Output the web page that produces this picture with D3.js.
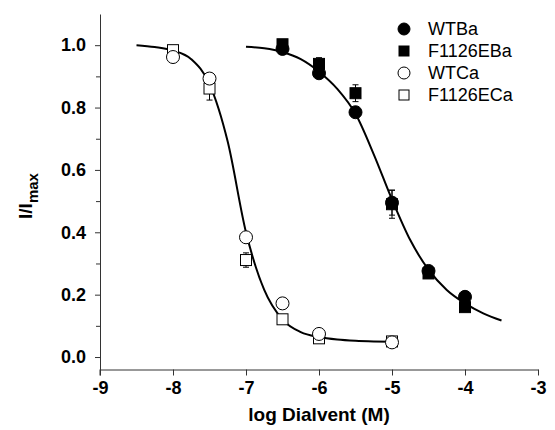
<!DOCTYPE html>
<html>
<head>
<meta charset="utf-8">
<script src="https://cdn.jsdelivr.net/npm/d3@7"></script>
<style>
  body { margin: 0; background: #fff; }
  svg { display: block; font-family: "Liberation Sans", Arial, sans-serif; }
  .tick text { font-weight: bold; font-size: 18px; fill: #000; }
  .tick line, .domain { stroke: #333; }
</style>
</head>
<body>
<div id="chart"></div>
<script>
// log concentrations
const xMajorTicks = [-9, -8, -7, -6, -5, -4, -3]
const yMajorTicks = [0, 0.2, 0.4, 0.6, 0.8, 1.0]
const yMinorTicks = [0.1, 0.3, 0.5, 0.7, 0.9]

const baX = [-6.5, -6, -5.5, -5, -4.5, -4]
const wtBa = [0.988, 0.91, 0.785, 0.495, 0.276, 0.193]
const wtBaErr = [0.01, 0.012, 0.015, 0.04, 0.012, 0.01]
const f1126eBa = [1.003, 0.94, 0.846, 0.49, 0.268, 0.16]
const f1126eBaErr = [0.012, 0.02, 0.027, 0.045, 0.01, 0.01]

const caX = [-8, -7.5, -7, -6.5, -6, -5]
const wtCa = [0.962, 0.893, 0.384, 0.172, 0.074, 0.047]
const wtCaErr = [0.005, 0.01, 0.01, 0.008, 0.006, 0.004]
const f1126eCa = [0.984, 0.861, 0.311, 0.121, 0.06, 0.05]
const f1126eCaErr = [0.005, 0.037, 0.023, 0.006, 0.005, 0.004]

// fitted curves
const baFitX = [-7, -6.75, -6.5, -6.25, -6, -5.75, -5.5, -5.25, -5, -4.75, -4.5, -4.25, -4, -3.75, -3.5]
const baFitY = [0.995, 0.99, 0.978, 0.955, 0.915, 0.86, 0.78, 0.65, 0.505, 0.375, 0.28, 0.215, 0.172, 0.14, 0.117]
const caFitX = [-8.5, -8.25, -8, -7.75, -7.5, -7.25, -7, -6.75, -6.5, -6.25, -6, -5.75, -5.5, -5.25, -5]
const caFitY = [1.0, 0.994, 0.983, 0.955, 0.875, 0.69, 0.40, 0.215, 0.12, 0.08, 0.064, 0.056, 0.052, 0.05, 0.049]

const legendLabels = ["WTBa", "F1126EBa", "WTCa", "F1126ECa"]

// 1. Dimensions
let dimensions = {
  width: 555,
  height: 430,
  margin: { top: 14, right: 17, bottom: 60.5, left: 100 },
}
dimensions.boundedWidth = dimensions.width - dimensions.margin.left - dimensions.margin.right
dimensions.boundedHeight = dimensions.height - dimensions.margin.top - dimensions.margin.bottom

// 2. Canvas
const wrapper = d3.select("#chart")
  .append("svg")
    .attr("width", dimensions.width)
    .attr("height", dimensions.height)

const bounds = wrapper.append("g")
    .attr("transform", `translate(${dimensions.margin.left}, ${dimensions.margin.top})`)

// 3. Scales
const xScale = d3.scaleLinear()
  .domain([-9, -3])
  .range([0, dimensions.boundedWidth])

const yScale = d3.scaleLinear()
  .domain([-0.04, 1.1])
  .range([dimensions.boundedHeight, 0])

// 4. Axes
const xAxis = bounds.append("g")
    .attr("transform", `translate(0, ${dimensions.boundedHeight})`)
  .call(d3.axisBottom(xScale)
    .tickValues(xMajorTicks)
    .tickFormat(d3.format("d"))
    .tickSize(6)
    .tickSizeOuter(0)
    .tickPadding(6))
xAxis.selectAll(".tick text").text(d => "-" + Math.abs(d))

bounds.append("g")
  .call(d3.axisLeft(yScale)
    .tickValues(yMajorTicks)
    .tickFormat(d3.format(".1f"))
    .tickSize(5)
    .tickSizeOuter(0)
    .tickPadding(9))

bounds.append("g")
  .call(d3.axisLeft(yScale)
    .tickValues(yMinorTicks)
    .tickFormat("")
    .tickSize(4)
    .tickSizeOuter(0))
  .select(".domain").remove()

// y axis continues down to the -9 tick
bounds.append("line")
    .attr("x1", 0).attr("x2", 0)
    .attr("y1", dimensions.boundedHeight)
    .attr("y2", dimensions.boundedHeight + 6)
    .attr("stroke", "#333")

xAxis.append("text")
    .attr("x", dimensions.boundedWidth / 2)
    .attr("y", 51)
    .attr("fill", "#000")
    .attr("text-anchor", "middle")
    .style("font-size", "19px")
    .style("font-weight", "bold")
    .text("log Dialvent (M)")

const yLabel = wrapper.append("text")
    .attr("transform", "translate(32, 196) rotate(-90)")
    .attr("text-anchor", "middle")
    .style("font-size", "19px")
    .style("font-weight", "bold")
yLabel.append("tspan").text("I/I")
yLabel.append("tspan")
    .attr("dy", 6)
    .style("font-size", "15px")
    .text("max")

// 5. Fitted curves
const lineGenerator = d3.line()
  .x(d => xScale(d[0]))
  .y(d => yScale(d[1]))
  .curve(d3.curveMonotoneX)

const fits = [d3.zip(caFitX, caFitY), d3.zip(baFitX, baFitY)]
bounds.selectAll(".fit")
  .data(fits)
  .join("path")
    .attr("class", "fit")
    .attr("d", lineGenerator)
    .attr("fill", "none")
    .attr("stroke", "#000")
    .attr("stroke-width", 2)

// 6. Markers
const series = [
  { x: baX, y: f1126eBa, err: f1126eBaErr, shape: "square", fill: "#000" },
  { x: baX, y: wtBa, err: wtBaErr, shape: "circle", fill: "#000" },
  { x: caX, y: f1126eCa, err: f1126eCaErr, shape: "square", fill: "#fff" },
  { x: caX, y: wtCa, err: wtCaErr, shape: "circle", fill: "#fff" },
]

const drawMarker = (g, shape, fill, cx, cy, size) => {
  if (shape === "circle") {
    g.append("circle")
        .attr("cx", cx).attr("cy", cy).attr("r", size / 2)
        .attr("fill", fill).attr("stroke", "#000").attr("stroke-width", 1)
  } else {
    g.append("rect")
        .attr("x", cx - size / 2 + 0.5).attr("y", cy - size / 2 + 0.5)
        .attr("width", size - 1).attr("height", size - 1)
        .attr("fill", fill).attr("stroke", "#000").attr("stroke-width", 1)
  }
}

series.forEach(s => {
  const g = bounds.append("g")
  d3.zip(s.x, s.y, s.err).forEach(([x, y, e]) => {
    const cx = xScale(x)
    const top = yScale(y + e)
    const bottom = yScale(y - e)
    g.append("path")
        .attr("d", `M${cx},${top}V${bottom}M${cx - 3},${top}H${cx + 3}M${cx - 3},${bottom}H${cx + 3}`)
        .attr("stroke", "#000")
        .attr("fill", "none")
  })
  d3.zip(s.x, s.y).forEach(([x, y]) => {
    drawMarker(g, s.shape, s.fill, xScale(x), yScale(y), s.shape === "circle" ? 13 : 12)
  })
})

// 7. Legend
const legend = wrapper.append("g")
    .attr("transform", "translate(404, 29)")
const legendShapes = [["circle", "#000"], ["square", "#000"], ["circle", "#fff"], ["square", "#fff"]]
legendLabels.forEach((label, i) => {
  const row = legend.append("g").attr("transform", `translate(0, ${i * 22})`)
  drawMarker(row, legendShapes[i][0], legendShapes[i][1], 0, 0, legendShapes[i][0] === "circle" ? 12 : 11)
  row.append("text")
      .attr("x", 24)
      .attr("y", 0)
      .attr("dy", "0.35em")
      .style("font-size", "18px")
      .text(label)
})
</script>
</body>
</html>
